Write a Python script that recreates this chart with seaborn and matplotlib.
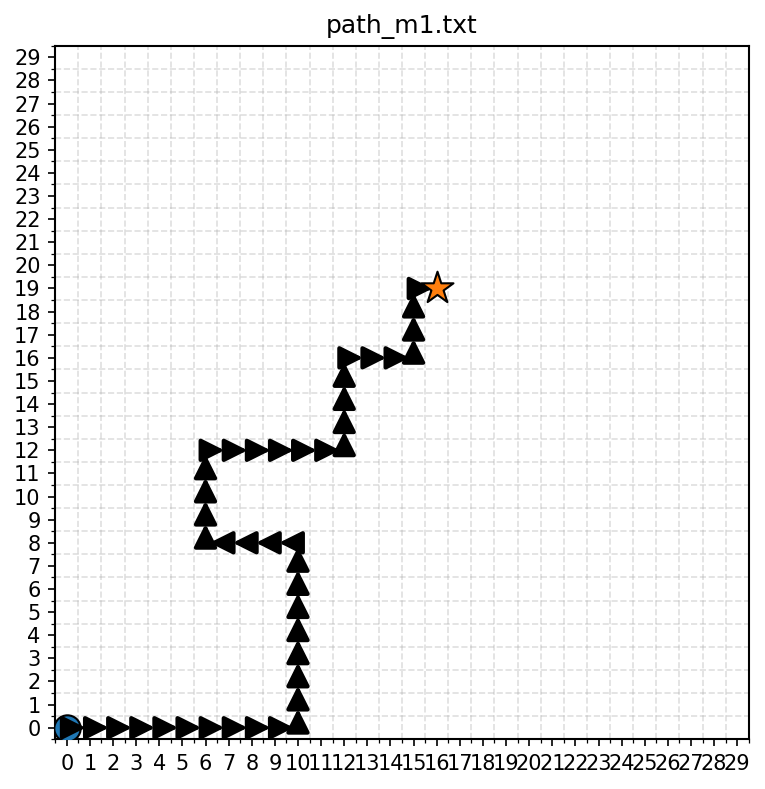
import numpy as np
import matplotlib
matplotlib.use("Agg")
import matplotlib.pyplot as plt
import seaborn as sns
import pandas as pd

# path (grid cells)
path_x = [0, 1, 2, 3, 4, 5, 6, 7, 8, 9, 10,
          10, 10, 10, 10, 10, 10, 10, 10,
          9, 8, 7, 6,
          6, 6, 6, 6,
          7, 8, 9, 10, 11, 12,
          12, 12, 12, 12,
          13, 14, 15,
          15, 15, 15,
          16]
path_y = [0, 0, 0, 0, 0, 0, 0, 0, 0, 0, 0,
          1, 2, 3, 4, 5, 6, 7, 8,
          8, 8, 8, 8,
          9, 10, 11, 12,
          12, 12, 12, 12, 12, 12,
          13, 14, 15, 16,
          16, 16, 16,
          17, 18, 19,
          19]
grid_size = 30
title = "path_m1.txt"

sns.set_style("ticks")
plt.rcParams["text.color"] = "black"
plt.rcParams["xtick.color"] = "black"
plt.rcParams["ytick.color"] = "black"
plt.rcParams["axes.edgecolor"] = "black"

fig = plt.figure(figsize=(765 / 150, 789 / 150), dpi=150)
ax = fig.add_axes([0.072, 0.063, 0.907, 0.879])

# start marker
sns.scatterplot(x=[path_x[0]], y=[path_y[0]], ax=ax, s=160, color="#1f77b4",
                edgecolor="black", linewidth=1, zorder=3)

# path arrows
for i in range(len(path_x) - 1):
    ax.annotate("", xy=(path_x[i + 1], path_y[i + 1]), xytext=(path_x[i], path_y[i]),
                arrowprops=dict(arrowstyle="-|>", color="black", lw=2,
                                mutation_scale=23, joinstyle="round"),
                zorder=4)

# goal marker
sns.scatterplot(x=[path_x[-1]], y=[path_y[-1]], ax=ax, s=260, marker="*",
                color="#ff7f0e", edgecolor="black", linewidth=1, zorder=5)

ax.set_xlim(-0.5, grid_size - 0.5)
ax.set_ylim(-0.5, grid_size - 0.5)
ax.set_aspect("equal")
ax.set_xticks(np.arange(grid_size))
ax.set_yticks(np.arange(grid_size))
ax.set_xticks(np.arange(-0.5, grid_size, 1), minor=True)
ax.set_yticks(np.arange(-0.5, grid_size, 1), minor=True)
ax.tick_params(which="major", labelsize=10, length=3.5, color="black", labelcolor="black")
ax.tick_params(which="minor", length=2, color="black")
ax.grid(which="minor", color="#b0b0b0", linestyle="--", linewidth=0.8, alpha=0.4)
ax.grid(which="major", visible=False)
for sp in ax.spines.values():
    sp.set_visible(True)
    sp.set_color("black")
    sp.set_linewidth(1.0)
ax.set_xlabel("")
ax.set_ylabel("")
ax.set_title(title, fontsize=12, color="black")

fig.savefig("out.png", dpi=150)
